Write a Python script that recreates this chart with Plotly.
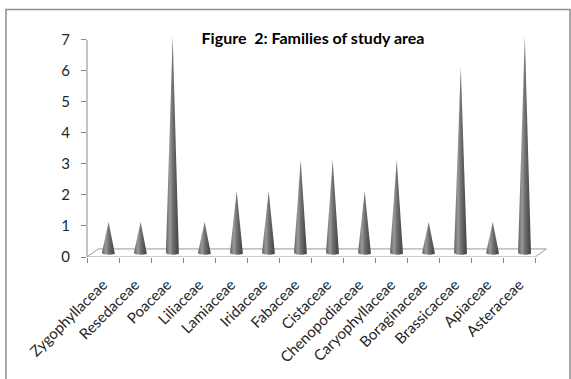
import numpy as np
import plotly.graph_objects as go

families = ["Zygophyllaceae", "Resedaceae", "Poaceae", "Liliaceae", "Lamiaceae",
            "Iridaceae", "Fabaceae", "Cistaceae", "Chenopodiaceae", "Caryophyllaceae",
            "Boraginaceae", "Brassicaceae", "Apiaceae", "Asteraceae"]
counts = [1, 1, 7, 1, 2, 2, 3, 3, 2, 3, 1, 6, 1, 7]
y_ticks = [0, 1, 2, 3, 4, 5, 6, 7]
title_text = "Figure  2: Families of study area"

# 3D look parameters (styling)
DX, DY = 0.35, 0.26      # depth offset of the floor (category units, value units)
W, H = 0.21, 0.06        # cone base half-width and ellipse half-height
XR = [-0.5, len(families) - 0.5 + 0.4]
YR = [0, 7.25]

fig = go.Figure()

# invisible trace to register categories on the main (category) axis
fig.add_trace(go.Scatter(x=families, y=[0] * len(families), mode="markers",
                         marker=dict(opacity=0), hoverinfo="skip", showlegend=False))

# floor
n = len(families)
fig.add_trace(go.Scatter(
    x=[-0.5, n - 0.5, n - 0.5 + DX, -0.5 + DX, -0.5],
    y=[0, 0, DY, DY, 0], xaxis="x2", mode="lines", fill="toself",
    fillcolor="white", line=dict(color="#9a9a9a", width=1),
    hoverinfo="skip", showlegend=False))

theta = np.linspace(0, -np.pi, 25)
for i, v in enumerate(counts):
    c = i + DX / 2
    b = DY / 2
    xs = [c] + list(c + W * np.cos(theta)) + [c]
    ys = [v + b] + list(b + H * np.sin(theta)) + [v + b]
    fig.add_trace(go.Scatter(
        x=xs, y=ys, xaxis="x2", mode="lines", fill="toself",
        line=dict(width=0, color="rgba(0,0,0,0)"),
        fillgradient=dict(type="horizontal",
                          colorscale=[[0, "#5e5e5e"], [0.3, "#9a9a9a"],
                                      [0.55, "#6e6e6e"], [1, "#3f3f3f"]]),
        hoverinfo="skip", showlegend=False))

fig.update_layout(
    width=571, height=379,
    margin=dict(l=87, r=23, t=32, b=122),
    paper_bgcolor="white", plot_bgcolor="white",
    font=dict(family="Lato", size=14, color="#262626"),
    title=dict(text="<b>" + title_text + "</b>", xref="container", yref="container",
               x=313 / 571, y=1 - 38 / 379, xanchor="center", yanchor="middle",
               font=dict(family="Lato", size=16, color="black")),
    xaxis=dict(type="category", range=XR, tickson="boundaries", ticks="outside",
               ticklen=5, tickcolor="#868686", showline=False, showgrid=False,
               zeroline=False, tickangle=-45, ticklabelstandoff=15,
               tickfont=dict(size=15, color="#262626")),
    xaxis2=dict(overlaying="x", range=XR, visible=False),
    yaxis=dict(range=YR, tickvals=y_ticks, ticks="outside", ticklen=5,
               tickcolor="#868686", showline=False, showgrid=False, zeroline=False,
               ticklabelstandoff=8, tickfont=dict(size=15, color="#262626")),
    shapes=[
        dict(type="line", xref="paper", yref="y", x0=0, x1=0, y0=0, y1=7,
             line=dict(color="#868686", width=1)),
        dict(type="rect", xref="paper", yref="paper",
             x0=(6 - 87) / 461, x1=(570 - 87) / 461,
             y0=(225 - 400) / 225, y1=(257 - 9.5) / 225,
             line=dict(color="#8c8c8c", width=1.5), fillcolor="rgba(0,0,0,0)", layer="below"),
    ],
)

fig.write_html("out.html", post_script="document.body.style.margin='0';",
               config={"displayModeBar": False})
